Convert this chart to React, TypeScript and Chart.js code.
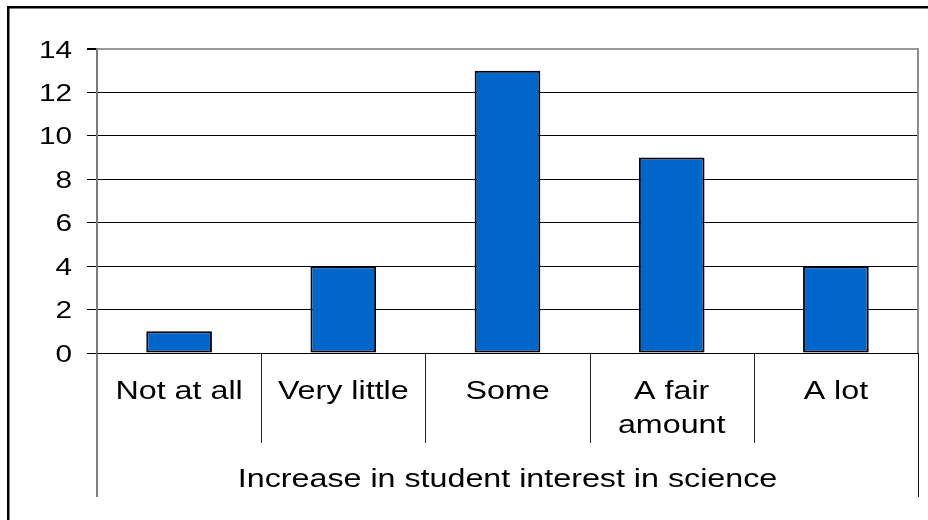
import React, { useEffect, useRef } from "react";
import { Chart, registerables } from "chart.js";

Chart.register(...registerables);

// Survey responses per category
const categories: string[][] = [
  ["Not at all"],
  ["Very little"],
  ["Some"],
  ["A fair", "amount"],
  ["A lot"],
];
const counts: number[] = [1, 4, 13, 9, 4];
const yTicks: number[] = [0, 2, 4, 6, 8, 10, 12, 14];
const axisTitle = "Increase in student interest in science";

const FONT = '"Liberation Sans", Arial, sans-serif';
const STRETCH = 1.24;

function stretchedText(
  ctx: CanvasRenderingContext2D,
  text: string,
  x: number,
  y: number,
  align: CanvasTextAlign,
  size: number
) {
  ctx.save();
  ctx.translate(x, y);
  ctx.scale(STRETCH, 1);
  ctx.font = `${size}px ${FONT}`;
  ctx.fillStyle = "#000";
  ctx.textAlign = align;
  ctx.textBaseline = "alphabetic";
  ctx.fillText(text, 0, 0);
  ctx.restore();
}

const frameAndLabels = {
  id: "frameAndLabels",
  afterDraw(chart: any) {
    const ctx: CanvasRenderingContext2D = chart.ctx;
    const area = chart.chartArea;
    const y = chart.scales.y;
    const n = categories.length;
    const step = (area.right - area.left) / n;

    ctx.save();
    // outer frame (top and left edges)
    ctx.fillStyle = "#000";
    ctx.fillRect(7, 6, 928, 2.5);
    ctx.fillRect(7, 6, 2.5, 520);

    // right edge of the plot area
    ctx.strokeStyle = "#8c8c8c";
    ctx.lineWidth = 2;
    ctx.beginPath();
    ctx.moveTo(area.right, area.top - 1);
    ctx.lineTo(area.right, area.bottom);
    ctx.stroke();

    // category separators below the axis
    ctx.strokeStyle = "#222";
    ctx.lineWidth = 1;
    for (let i = 1; i < n; i++) {
      const x = Math.round(area.left + step * i) + 0.5;
      ctx.beginPath();
      ctx.moveTo(x, area.bottom);
      ctx.lineTo(x, area.bottom + 90);
      ctx.stroke();
    }
    // outer separators spanning the title row
    ctx.strokeStyle = "#555";
    ctx.lineWidth = 1.5;
    ctx.beginPath();
    ctx.moveTo(area.left, area.bottom);
    ctx.lineTo(area.left, area.bottom + 144);
    ctx.stroke();
    ctx.strokeStyle = "#111";
    ctx.lineWidth = 1;
    ctx.beginPath();
    ctx.moveTo(Math.round(area.right) + 0.5, area.bottom);
    ctx.lineTo(Math.round(area.right) + 0.5, area.bottom + 144);
    ctx.stroke();
    ctx.restore();

    // y tick labels
    for (const v of yTicks) {
      const py = y.getPixelForValue(v);
      stretchedText(ctx, String(v), 72, py + 8.5, "right", 24);
    }

    // category labels
    categories.forEach((lines, i) => {
      const cx = area.left + step * (i + 0.5);
      lines.forEach((t, j) => {
        stretchedText(ctx, t, cx, area.bottom + 46 + j * 34, "center", 26);
      });
    });

    // axis title
    stretchedText(ctx, axisTitle, (area.left + area.right) / 2, area.bottom + 134, "center", 26);
  },
};

export default function App() {
  const ref = useRef<HTMLCanvasElement | null>(null);

  useEffect(() => {
    if (!ref.current) return;
    const chart = new Chart(ref.current, {
      type: "bar",
      data: {
        labels: categories.map((c) => c.join(" ")),
        datasets: [
          {
            data: counts,
            backgroundColor: "#0066CC",
            borderColor: "#000000",
            borderWidth: 2,
            borderSkipped: false,
            categoryPercentage: 1,
            barPercentage: 0.4,
          },
        ],
      },
      options: {
        responsive: false,
        animation: false,
        events: [],
        layout: { padding: { left: 0, top: 49, right: 10, bottom: 167 } },
        plugins: {
          legend: { display: false },
          tooltip: { enabled: false },
        },
        scales: {
          x: { display: false },
          y: {
            min: 0,
            max: 14,
            afterFit(scale: any) {
              scale.width = 97;
            },
            afterBuildTicks(scale: any) {
              scale.ticks = yTicks.map((v) => ({ value: v }));
            },
            ticks: {
              color: "rgba(0,0,0,0)",
              font: { size: 24, family: FONT },
              padding: 15,
            },
            grid: {
              color: (c: any) => (c.tick && c.tick.value === 14 ? "#9a9a9a" : "#000000"),
              lineWidth: (c: any) => (c.tick && c.tick.value === 14 ? 2 : 1),
              tickColor: "#000000",
              tickLength: 10,
              drawTicks: true,
            },
            border: { color: "#7a7a7a", width: 2 },
          },
        },
      },
      plugins: [frameAndLabels],
    });
    return () => chart.destroy();
  }, []);

  return (
    <div style={{ position: "fixed", left: 0, top: 0, width: 928, height: 520, background: "#fff" }}>
      <canvas ref={ref} width={928} height={520} />
    </div>
  );
}
